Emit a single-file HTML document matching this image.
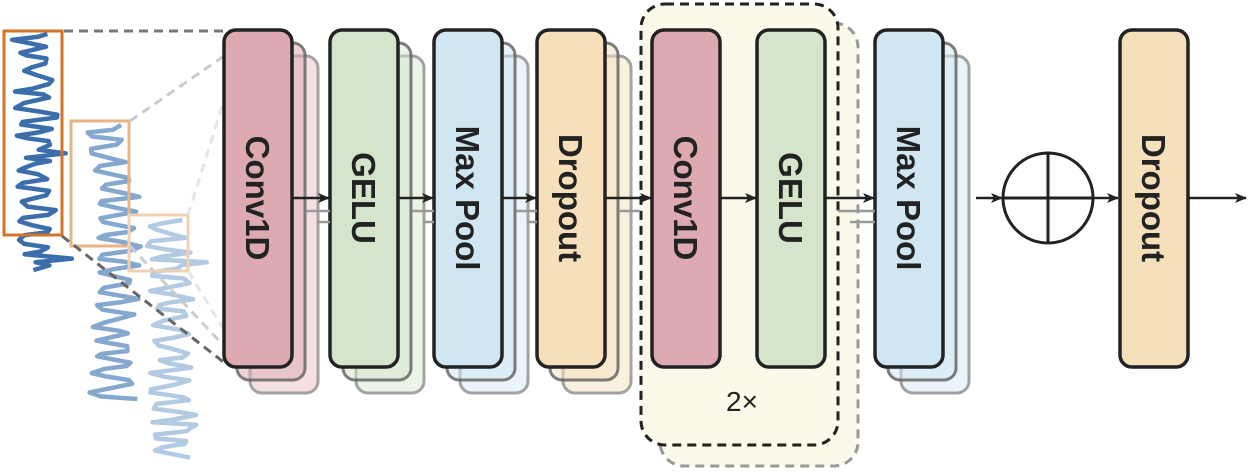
<!DOCTYPE html>
<html><head><meta charset="utf-8"><style>
html,body{margin:0;padding:0;background:#fff;width:1250px;height:476px;overflow:hidden}
svg{display:block}
text{font-family:"Liberation Sans",sans-serif;font-weight:bold;fill:#222}
</style></head><body>
<svg id="s" width="1250" height="476" viewBox="0 0 1250 476" xmlns="http://www.w3.org/2000/svg">
<defs>
<marker id="ah" markerWidth="12" markerHeight="10" refX="11" refY="5" orient="auto" markerUnits="userSpaceOnUse"><path d="M0,0 L12,5 L0,10 L3,5 Z" fill="#222"/></marker>
</defs>
<g id="waves"></g>
<rect x="4" y="31" width="58" height="204" fill="none" stroke="#d2742a" stroke-width="3"/>
<rect x="71" y="121" width="58" height="125" fill="none" stroke="#e6b486" stroke-width="3"/>
<rect x="129" y="215" width="59" height="56" fill="none" stroke="#f0d0b0" stroke-width="3"/>
<line x1="64" y1="31" x2="236" y2="31" stroke="#777" stroke-width="3" stroke-dasharray="9,6"/>
<line x1="62" y1="236" x2="226" y2="364" stroke="#666" stroke-width="3" stroke-dasharray="9,6"/>
<line x1="130" y1="121" x2="224" y2="56" stroke="#ccc" stroke-width="3" stroke-dasharray="9,6"/>
<line x1="130" y1="246" x2="224" y2="346" stroke="#ccc" stroke-width="3" stroke-dasharray="9,6"/>
<line x1="188" y1="215" x2="224" y2="100" stroke="#e6e6e6" stroke-width="3" stroke-dasharray="9,6"/>
<line x1="188" y1="271" x2="224" y2="330" stroke="#e6e6e6" stroke-width="3" stroke-dasharray="9,6"/>
<rect x="660" y="23" width="198" height="443" rx="24" fill="#fbf9ea" stroke="#999" stroke-width="3" stroke-dasharray="9,6"/>
<rect x="641" y="4" width="197" height="441" rx="24" fill="#fbf9ea" stroke="#222" stroke-width="3" stroke-dasharray="9,6"/>
<text x="742" y="411" font-size="28" text-anchor="middle" style="font-weight:normal">2×</text>
<g id="blocks"></g>
<g stroke="#999" stroke-width="2.5" fill="none">
<line x1="306" y1="211" x2="330" y2="211"/><line x1="317" y1="222" x2="330" y2="222"/>
<line x1="412" y1="211" x2="434" y2="211"/><line x1="423" y1="222" x2="434" y2="222"/>
<line x1="516" y1="211" x2="537" y2="211"/><line x1="527" y1="222" x2="537" y2="222"/>
<line x1="619" y1="211" x2="640" y2="211"/>
<line x1="838" y1="211" x2="875" y2="211"/><line x1="850" y1="222" x2="875" y2="222"/>
</g>
<g stroke="#222" stroke-width="2.5" fill="none" marker-end="url(#ah)">
<line x1="292" y1="198" x2="329" y2="198"/>
<line x1="398" y1="198" x2="433" y2="198"/>
<line x1="502" y1="198" x2="536" y2="198"/>
<line x1="605" y1="198" x2="651" y2="198"/>
<line x1="720" y1="198" x2="756" y2="198"/>
<line x1="824" y1="198" x2="874" y2="198"/>
<line x1="976" y1="198" x2="1002" y2="198"/>
<line x1="1093" y1="198" x2="1118" y2="198"/>
<line x1="1189" y1="198" x2="1246" y2="198"/>
</g>
<circle cx="1048" cy="198" r="45" fill="#fff" stroke="#222" stroke-width="3"/>
<line x1="1003" y1="198" x2="1093" y2="198" stroke="#222" stroke-width="3"/>
<line x1="1048" y1="153" x2="1048" y2="243" stroke="#222" stroke-width="3"/>
</svg>
<script>
(function(){
var ns="http://www.w3.org/2000/svg";
var B=document.getElementById("blocks"),W=document.getElementById("waves");
function el(t,a,p){var e=document.createElementNS(ns,t);for(var k in a)e.setAttribute(k,a[k]);(p||B).appendChild(e);return e;}
function block(x,fill,light,label,stack){
 if(stack){
  el("rect",{x:x+26,y:56,width:68,height:337,rx:12,fill:light,stroke:"#999","stroke-width":3,opacity:0.9});
  el("rect",{x:x+13,y:43,width:68,height:337,rx:12,fill:fill,"fill-opacity":0.6,stroke:"#666","stroke-width":3,opacity:0.85});
 }
 el("rect",{x:x,y:30,width:68,height:337,rx:12,fill:fill,stroke:"#222","stroke-width":3.5});
 var t=el("text",{x:0,y:0,"font-size":33,"text-anchor":"middle",transform:"translate("+(x+34-12)+",198) rotate(90)"});
 t.textContent=label;
}
block(224,"#dcaab0","#f3dde0","Conv1D",1);
block(330,"#d4e5cc","#eaf3e6","GELU",1);
block(434,"#d1e6f3","#e8f3fa","Max Pool",1);
block(537,"#f5e0bb","#faefdc","Dropout",1);
block(652,"#dcaab0","","Conv1D",0);
block(757,"#d4e5cc","","GELU",0);
block(875,"#d1e6f3","#e8f3fa","Max Pool",1);
block(1120,"#f5e0bb","","Dropout",0);
var seed=11;function r(){seed=(seed*9301+49297)%233280;return seed/233280;}
function wave(x0,x1,y0,y1,col){
 var y=y0,ph=0,c=(x0+x1)/2,A=(x1-x0)*0.3,d="";
 while(y<y1){
  ph+=0.9+r()*0.9; c+=(r()-0.5)*4; c=Math.max(x0+A,Math.min(x1-A,c));
  var x=c+A*Math.sin(ph)+(r()-0.5)*10;
  if(r()<0.04)x=x1+r()*15;
  d+=(d?" L":"M")+x.toFixed(1)+","+y.toFixed(1);
  y+=2.5+r()*2.5;
 }
 el("path",{d:d,fill:"none",stroke:col,"stroke-width":4.5,"stroke-linejoin":"round"},W);
}
wave(130,196,220,460,"#b3cbe2");
wave(72,136,125,400,"#85a8cf");
wave(6,62,34,272,"#3c6eab");
})();
</script>
</body></html>
